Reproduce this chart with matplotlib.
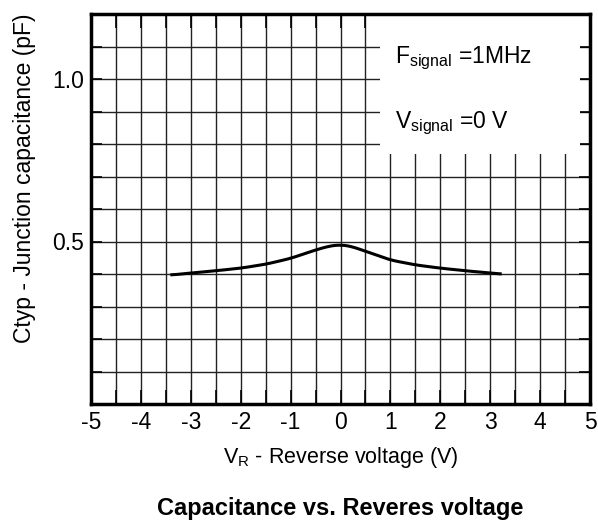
import numpy as np
import matplotlib
matplotlib.use('Agg')
import matplotlib.pyplot as plt
from matplotlib.patches import Rectangle

plt.rcParams['font.family'] = ['Liberation Sans', 'DejaVu Sans']
plt.rcParams['mathtext.fontset'] = 'custom'
plt.rcParams['mathtext.rm'] = 'Liberation Sans'
plt.rcParams['mathtext.it'] = 'Liberation Sans'
plt.rcParams['axes.unicode_minus'] = False

# curve
vr = [-3.38, -3.0, -2.5, -2.0, -1.5, -1.0, -0.5, -0.2, 0.0, 0.2, 0.5, 1.0, 1.5, 2.0, 2.5, 3.0, 3.2]
ctyp = [0.397, 0.403, 0.410, 0.418, 0.430, 0.448, 0.474, 0.487, 0.490, 0.486, 0.470, 0.443, 0.428, 0.418, 0.410, 0.403, 0.400]

x_ticks = [-5, -4, -3, -2, -1, 0, 1, 2, 3, 4, 5]
y_ticks = [0.5, 1.0]
y_tick_labels = ['0.5', '1.0']

fig = plt.figure(figsize=(5.98, 5.22), dpi=100)
ax = fig.add_axes([91/598, 1 - 404/522, (590 - 91)/598, (404 - 14)/522])

ax.set_xlim(-5, 5)
ax.set_ylim(0, 1.2)
ax.set_xticks(x_ticks)
ax.set_xticks(np.arange(-5, 5.01, 0.5), minor=True)
ax.set_yticks(y_ticks)
ax.set_yticklabels(y_tick_labels)
ax.set_yticks(np.arange(0, 1.201, 0.1), minor=True)
ax.grid(True, which='both', color='#222222', linewidth=1.0)
ax.tick_params(which='both', direction='in', length=10, width=1.2,
               top=True, right=True, labelsize=16.5, pad=5)
ax.tick_params(axis='y', which='both', length=8)
for s in ax.spines.values():
    s.set_linewidth(2.5)
ax.set_axisbelow(True)

# smooth the curve through the read points
xs = np.linspace(vr[0], vr[-1], 300)
ys = np.interp(xs, vr, ctyp)
k = np.ones(15) / 15
ys_s = np.convolve(np.pad(ys, 7, mode='edge'), k, mode='valid')
ax.plot(xs, ys_s, color='black', linewidth=2.2, zorder=3)

ax.add_patch(Rectangle((0.79, 0.77), 4.0, 0.43, facecolor='white',
                       edgecolor='none', zorder=2))
ax.text(1.09, 1.05, r'F$_{\mathregular{signal}}$ =1MHz', fontsize=16.5, zorder=4, va='baseline')
ax.text(1.09, 0.85, r'V$_{\mathregular{signal}}$ =0 V', fontsize=16.5, zorder=4, va='baseline')

ax.set_xlabel(r'V$_{\mathregular{R}}$ - Reverse voltage (V)', fontsize=15.5, labelpad=8)
ax.set_ylabel('Ctyp - Junction capacitance (pF)', fontsize=16.5, va='center')
ax.yaxis.set_label_coords(-0.134, 0.58)

fig.text(340/598, 1 - 508/522, 'Capacitance vs. Reveres voltage',
         fontsize=17, fontweight='bold', ha='center', va='center')

fig.savefig('out.png', dpi=100)
